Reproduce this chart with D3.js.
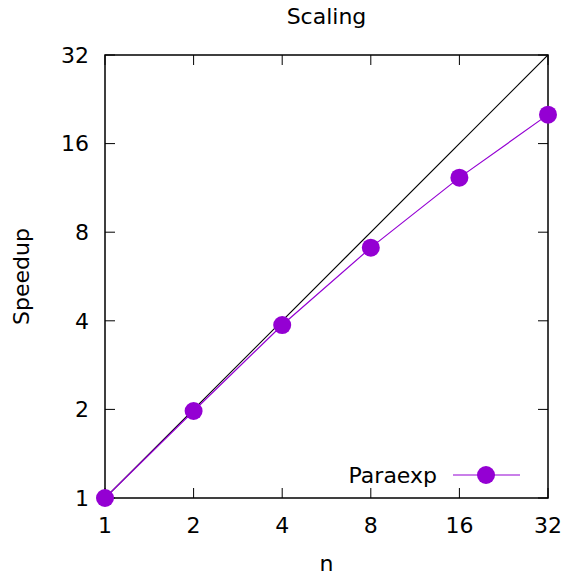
<!DOCTYPE html>
<html>
<head>
<meta charset="utf-8">
<script src="https://cdn.jsdelivr.net/npm/d3@7"></script>
<style>
  body { margin: 0; background: #fff; }
  svg { display: block; }
  text { font-family: "DejaVu Sans", sans-serif; fill: #000; }
</style>
</head>
<body>
<svg width="566" height="575"></svg>
<script>
// data
const threads = [1, 2, 4, 8, 16, 32];
const speedup = [1, 1.975, 3.87, 7.09, 12.26, 20.07];
const tickValues = [1, 2, 4, 8, 16, 32];
const seriesName = "Paraexp";

const width = 566;
const height = 575;
const margin = { left: 105, right: 18, top: 55, bottom: 77 };
const color = "#9400d3";
const fontSize = 22;

const svg = d3.select("svg");

const x = d3.scaleLog().base(2)
  .domain([1, 32])
  .range([margin.left, width - margin.right]);
const y = d3.scaleLog().base(2)
  .domain([1, 32])
  .range([height - margin.bottom, margin.top]);

const x0 = x.range()[0], x1 = x.range()[1];
const y0 = y.range()[0], y1 = y.range()[1];
const tickLen = 10;

// clip for lines
svg.append("defs").append("clipPath").attr("id", "plot")
  .append("rect")
  .attr("x", x0).attr("y", y1)
  .attr("width", x1 - x0).attr("height", y0 - y1);

// ticks on all four sides, pointing inward
const ticks = svg.append("g").attr("stroke", "#000").attr("stroke-width", 1);
tickValues.forEach(v => {
  ticks.append("line").attr("x1", x(v)).attr("x2", x(v)).attr("y1", y0).attr("y2", y0 - tickLen);
  ticks.append("line").attr("x1", x(v)).attr("x2", x(v)).attr("y1", y1).attr("y2", y1 + tickLen);
  ticks.append("line").attr("y1", y(v)).attr("y2", y(v)).attr("x1", x0).attr("x2", x0 + tickLen);
  ticks.append("line").attr("y1", y(v)).attr("y2", y(v)).attr("x1", x1).attr("x2", x1 - tickLen);
});

// tick labels
svg.append("g").selectAll("text")
  .data(tickValues).join("text")
  .attr("x", d => x(d))
  .attr("y", y0 + 35)
  .attr("text-anchor", "middle")
  .attr("font-size", fontSize)
  .text(d => d);

svg.append("g").selectAll("text")
  .data(tickValues).join("text")
  .attr("x", x0 - 16)
  .attr("y", d => y(d) + 7.8)
  .attr("text-anchor", "end")
  .attr("font-size", fontSize)
  .text(d => d);

// ideal line y = x
const line = d3.line().x(d => x(d[0])).y(d => y(d[1]));
svg.append("path")
  .attr("clip-path", "url(#plot)")
  .attr("d", line([[1, 1], [32, 32]]))
  .attr("fill", "none")
  .attr("stroke", "#000")
  .attr("stroke-width", 1.2);

// frame
svg.append("rect")
  .attr("x", x0).attr("y", y1)
  .attr("width", x1 - x0).attr("height", y0 - y1)
  .attr("fill", "none")
  .attr("stroke", "#000")
  .attr("stroke-width", 1.5);

// series
const pts = threads.map((t, i) => [t, speedup[i]]);
svg.append("path")
  .attr("d", line(pts))
  .attr("fill", "none")
  .attr("stroke", color)
  .attr("stroke-width", 1.2);

svg.append("g").selectAll("circle")
  .data(pts).join("circle")
  .attr("cx", d => x(d[0]))
  .attr("cy", d => y(d[1]))
  .attr("r", 9)
  .attr("fill", color);

// legend
const ly = 475;
svg.append("text")
  .attr("x", 437).attr("y", ly + 7.8)
  .attr("text-anchor", "end")
  .attr("font-size", fontSize)
  .text(seriesName);
svg.append("line")
  .attr("x1", 453).attr("x2", 520).attr("y1", ly).attr("y2", ly)
  .attr("stroke", color).attr("stroke-width", 1.2);
svg.append("circle")
  .attr("cx", 486).attr("cy", ly).attr("r", 9).attr("fill", color);

// title and axis labels
svg.append("text")
  .attr("x", (x0 + x1) / 2).attr("y", 24)
  .attr("text-anchor", "middle")
  .attr("font-size", fontSize)
  .text("Scaling");

svg.append("text")
  .attr("x", (x0 + x1) / 2).attr("y", 571)
  .attr("text-anchor", "middle")
  .attr("font-size", fontSize)
  .text("n");

svg.append("text")
  .attr("transform", `translate(29, ${(y0 + y1) / 2}) rotate(-90)`)
  .attr("text-anchor", "middle")
  .attr("font-size", fontSize)
  .text("Speedup");
</script>
</body>
</html>
